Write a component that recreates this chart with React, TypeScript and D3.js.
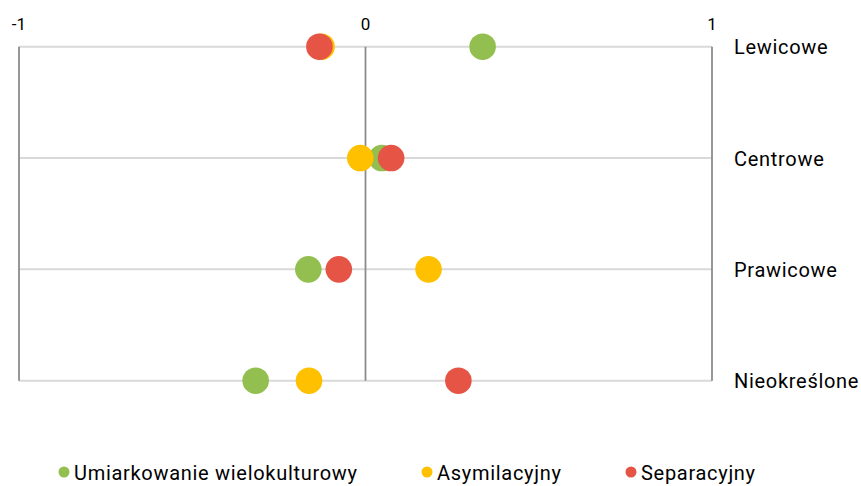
import React, { useEffect, useRef } from 'react';
import * as d3 from 'd3';

const categories = ['Lewicowe', 'Centrowe', 'Prawicowe', 'Nieokreślone'];
const seriesNames = ['Umiarkowanie wielokulturowy', 'Asymilacyjny', 'Separacyjny'];
const seriesColors = ['#92BF4F', '#FFC000', '#E55444'];
// values per series, in category order
const umiarkowane = [0.338, 0.047, -0.165, -0.317];
const asymilacyjny = [-0.127, -0.015, 0.182, -0.163];
const separacyjny = [-0.133, 0.074, -0.077, 0.268];
const xTicks = [-1, 0, 1];

const App: React.FC = () => {
  const svgRef = useRef<SVGSVGElement | null>(null);

  useEffect(() => {
    if (!svgRef.current) return;
    const width = 861;
    const height = 486;

    const svg = d3.select(svgRef.current).attr('width', width).attr('height', height);
    svg.selectAll('*').remove();

    const x = d3.scaleLinear().domain([-1, 1]).range([19, 712]);
    const y = d3.scalePoint<string>().domain(categories).range([46.7, 380.7]);
    const top = y(categories[0]) as number;
    const bottom = y(categories[categories.length - 1]) as number;

    const font = 'Roboto, sans-serif';

    // horizontal grid per category
    svg
      .selectAll('.hline')
      .data(categories)
      .enter()
      .append('line')
      .attr('x1', x(-1))
      .attr('x2', x(1))
      .attr('y1', (d) => y(d) as number)
      .attr('y2', (d) => y(d) as number)
      .attr('stroke', '#D9D9D9')
      .attr('stroke-width', 2);

    // vertical lines at ticks
    svg
      .selectAll('.vline')
      .data(xTicks)
      .enter()
      .append('line')
      .attr('x1', (d) => x(d))
      .attr('x2', (d) => x(d))
      .attr('y1', top)
      .attr('y2', bottom)
      .attr('stroke', '#8C8C8C')
      .attr('stroke-width', 1.8);

    svg
      .selectAll('.tick')
      .data(xTicks)
      .enter()
      .append('text')
      .attr('x', (d) => x(d))
      .attr('y', 30)
      .attr('text-anchor', 'middle')
      .attr('font-family', font)
      .attr('font-size', 17)
      .attr('fill', '#000')
      .text((d) => String(d));

    svg
      .selectAll('.cat')
      .data(categories)
      .enter()
      .append('text')
      .attr('x', 734)
      .attr('y', (d) => (y(d) as number) + 7.5)
      .attr('font-family', font)
      .attr('font-size', 20)
      .attr('letter-spacing', 0.7)
      .attr('fill', '#000')
      .text((d) => d);

    const series = [umiarkowane, asymilacyjny, separacyjny];
    series.forEach((vals, i) => {
      svg
        .append('g')
        .selectAll('circle')
        .data(vals)
        .enter()
        .append('circle')
        .attr('cx', (d) => x(d))
        .attr('cy', (_, j) => y(categories[j]) as number)
        .attr('r', 13.3)
        .attr('fill', seriesColors[i]);
    });

    // legend
    const legendX = [64, 427, 631];
    const legendY = 472;
    const legend = svg
      .selectAll('.legend')
      .data(seriesNames)
      .enter()
      .append('g')
      .attr('transform', (_, i) => `translate(${legendX[i]},${legendY})`);
    legend
      .append('circle')
      .attr('r', 5.5)
      .attr('fill', (_, i) => seriesColors[i]);
    legend
      .append('text')
      .attr('x', 10)
      .attr('y', 7.5)
      .attr('font-family', font)
      .attr('font-size', 20)
      .attr('letter-spacing', 0.7)
      .attr('fill', '#000')
      .text((d) => d);
  }, []);

  return <svg ref={svgRef} style={{ position: 'absolute', left: 0, top: 0 }}></svg>;
};

export default App;
